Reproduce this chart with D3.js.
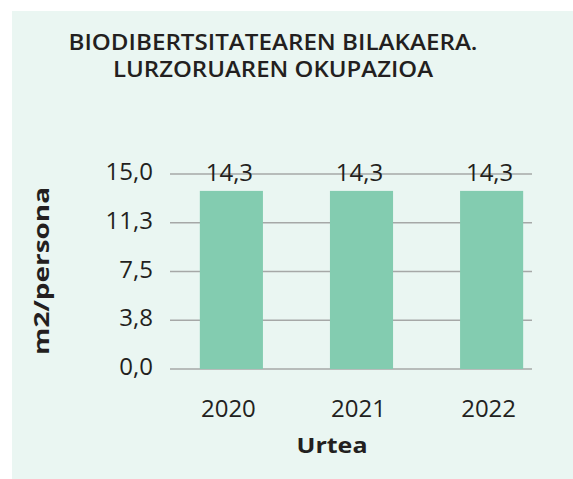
<!DOCTYPE html>
<html>
<head>
<meta charset="utf-8">
<script src="https://cdn.jsdelivr.net/npm/d3@7"></script>
<style>
  html, body { margin: 0; padding: 0; background: #ffffff; }
  text { font-family: "Open Sans", "Noto Sans", sans-serif; fill: #231f20; }
</style>
</head>
<body>
<script>
"use strict";

var titleLines = ["BIODIBERTSITATEAREN BILAKAERA.", "LURZORUAREN OKUPAZIOA"];
var years = ["2020", "2021", "2022"];
// bar heights
var values = [13.7, 13.7, 13.7];
// labels printed above the bars
var valueLabels = ["14,3", "14,3", "14,3"];
var yTicks = [0, 3.75, 7.5, 11.25, 15];
var yTickLabels = ["0,0", "3,8", "7,5", "11,3", "15,0"];
var yTitle = "m2/persona";
var xTitle = "Urtea";

function init() {
    var w = 573;
    var h = 479;

    var svg = d3.select("body")
        .append("svg")
        .attr("width", w)
        .attr("height", h);

    // panel
    svg.append("rect")
        .attr("x", 12)
        .attr("y", 11)
        .attr("width", w - 12)
        .attr("height", h - 11)
        .attr("fill", "#eaf6f2");

    var xScale = d3.scaleBand()
        .domain(years)
        .range([166, 557])
        .paddingInner(0.515)
        .paddingOuter(0.26);

    var yScale = d3.scaleLinear()
        .domain([0, 15])
        .range([369, 174]);

    //Grid lines
    svg.selectAll("line.grid")
        .data(yTicks)
        .enter()
        .append("line")
        .attr("class", "grid")
        .attr("x1", 170)
        .attr("x2", 532)
        .attr("y1", function (d) { return yScale(d); })
        .attr("y2", function (d) { return yScale(d); })
        .attr("stroke", "#a6a8a7")
        .attr("stroke-width", 1.4);

    //Y tick labels
    svg.selectAll("text.ytick")
        .data(yTicks)
        .enter()
        .append("text")
        .attr("class", "ytick")
        .attr("x", 153)
        .attr("y", function (d) { return yScale(d) + 6; })
        .attr("text-anchor", "end")
        .style("font-size", "24px")
        .text(function (d, i) { return yTickLabels[i]; });

    //Bars
    svg.selectAll("rect.bar")
        .data(values)
        .enter()
        .append("rect")
        .attr("class", "bar")
        .attr("x", function (d, i) { return xScale(years[i]); })
        .attr("y", function (d) { return yScale(d); })
        .attr("width", xScale.bandwidth())
        .attr("height", function (d) { return yScale(0) - yScale(d); })
        .attr("fill", "#83ccb0");

    //Value labels
    svg.selectAll("text.val")
        .data(valueLabels)
        .enter()
        .append("text")
        .attr("class", "val")
        .attr("x", function (d, i) { return xScale(years[i]) + xScale.bandwidth() / 2 - 2; })
        .attr("y", 181)
        .attr("text-anchor", "middle")
        .style("font-size", "24px")
        .text(function (d) { return d; });

    //X tick labels
    svg.selectAll("text.xtick")
        .data(years)
        .enter()
        .append("text")
        .attr("class", "xtick")
        .attr("x", function (d) { return xScale(d) + xScale.bandwidth() / 2 - 3; })
        .attr("y", 417)
        .attr("text-anchor", "middle")
        .style("font-size", "24px")
        .text(function (d) { return d; });

    //Axis titles
    svg.append("text")
        .attr("x", 332)
        .attr("y", 453)
        .attr("text-anchor", "middle")
        .attr("textLength", 71)
        .attr("lengthAdjust", "spacingAndGlyphs")
        .style("font-size", "22px")
        .style("font-weight", "bold")
        .text(xTitle);

    svg.append("text")
        .attr("transform", "translate(49,271) rotate(-90)")
        .attr("text-anchor", "middle")
        .attr("textLength", 168)
        .attr("lengthAdjust", "spacingAndGlyphs")
        .style("font-size", "22px")
        .style("font-weight", "bold")
        .text(yTitle);

    //Title
    var titleWidths = [409, 320];
    svg.selectAll("text.title")
        .data(titleLines)
        .enter()
        .append("text")
        .attr("class", "title")
        .attr("x", 273)
        .attr("y", function (d, i) { return 50 + i * 27; })
        .attr("text-anchor", "middle")
        .attr("textLength", function (d, i) { return titleWidths[i]; })
        .attr("lengthAdjust", "spacingAndGlyphs")
        .style("font-size", "21px")
        .style("font-weight", "600")
        .text(function (d) { return d; });
}

window.onload = init;
</script>
</body>
</html>
